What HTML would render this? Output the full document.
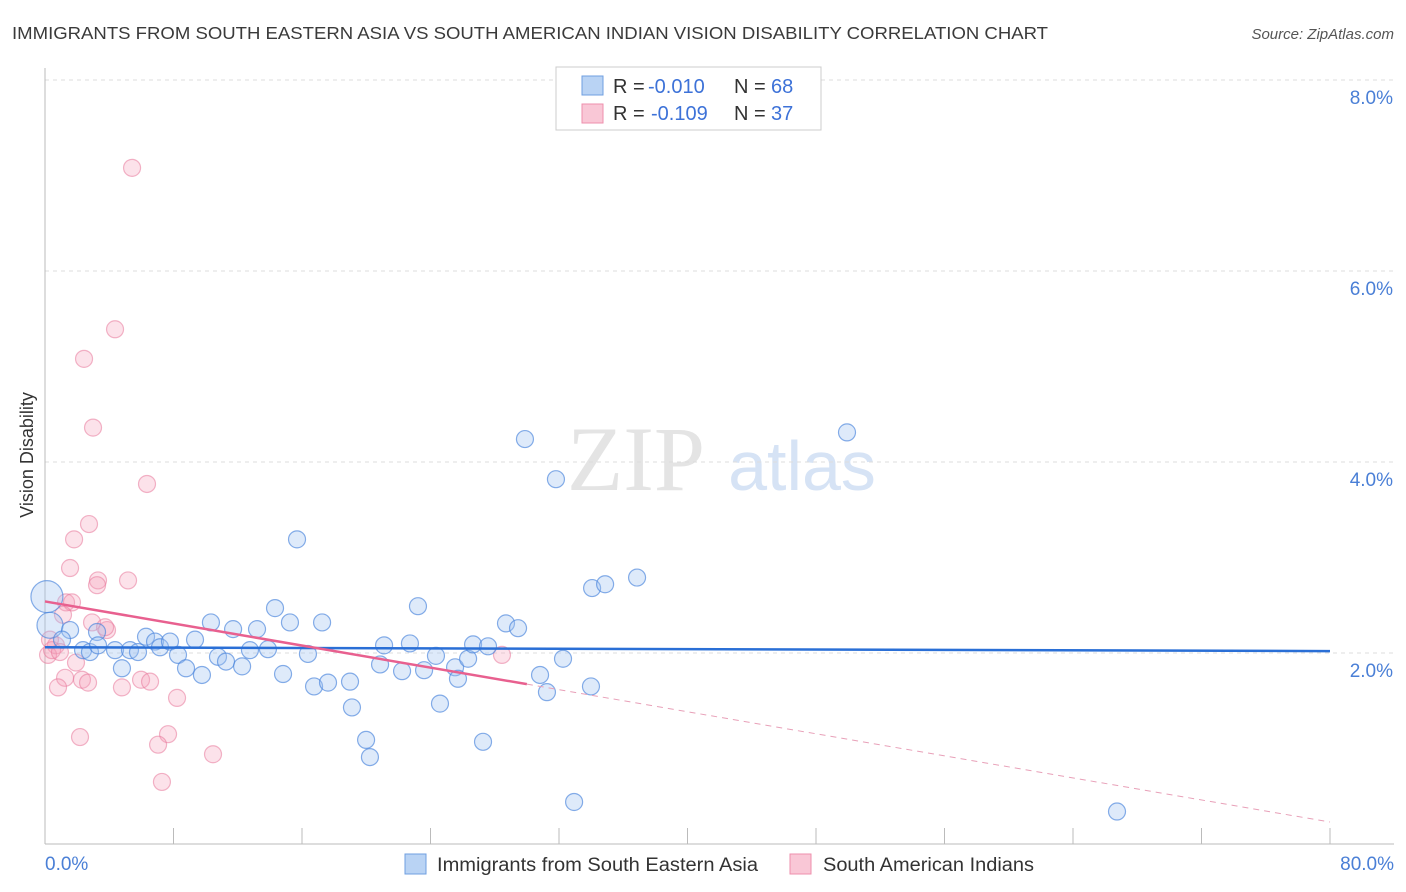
<!DOCTYPE html>
<html><head><meta charset="utf-8"><style>
body{margin:0;background:#fff;font-family:"Liberation Sans",sans-serif;}
</style></head><body>
<svg id="chart" width="1406" height="892" xmlns="http://www.w3.org/2000/svg" style="display:block">
<text x="12" y="39" font-size="17.5" fill="#3a3a3a" textLength="1036" lengthAdjust="spacingAndGlyphs">IMMIGRANTS FROM SOUTH EASTERN ASIA VS SOUTH AMERICAN INDIAN VISION DISABILITY CORRELATION CHART</text>
<text x="1394" y="39" font-size="15" fill="#555" font-style="italic" text-anchor="end">Source: ZipAtlas.com</text>
<text transform="translate(33,455) rotate(-90)" font-size="18" fill="#333" text-anchor="middle">Vision Disability</text>
<g>
<text x="636" y="490" font-size="92" fill="#e4e4e4" font-family="Liberation Serif,serif" text-anchor="middle">ZIP</text>
<text x="802" y="490" font-size="70" fill="#d6e3f5" text-anchor="middle">atlas</text>
</g>
<g id="grid"></g><g id="axes"></g><g id="pinkpts"></g><g id="bluepts"></g><g id="lines"></g>
<g>
<rect x="556" y="67" width="265" height="63" fill="#fff" stroke="#ccc"/>
<rect x="582" y="76" width="21" height="19" fill="#b9d3f4" stroke="#6f9fe0"/>
<text x="613" y="93" font-size="20" fill="#333">R =</text>
<text x="648" y="93" font-size="20" fill="#3d72d8">-0.010</text>
<text x="734" y="93" font-size="20" fill="#333">N =</text>
<text x="771" y="93" font-size="20" fill="#3d72d8">68</text>
<rect x="582" y="104" width="21" height="19" fill="#f9c7d6" stroke="#ee8fac"/>
<text x="613" y="120" font-size="20" fill="#333">R =</text>
<text x="651" y="120" font-size="20" fill="#3d72d8">-0.109</text>
<text x="734" y="120" font-size="20" fill="#333">N =</text>
<text x="771" y="120" font-size="20" fill="#3d72d8">37</text>
</g>
<g>
<rect x="405" y="854" width="21" height="20" fill="#b9d3f4" stroke="#6f9fe0"/>
<text x="437" y="871" font-size="19" fill="#333" textLength="321" lengthAdjust="spacingAndGlyphs">Immigrants from South Eastern Asia</text>
<rect x="790" y="854" width="21" height="20" fill="#f9c7d6" stroke="#ee8fac"/>
<text x="823" y="871" font-size="19" fill="#333" textLength="211" lengthAdjust="spacingAndGlyphs">South American Indians</text>
</g>
</svg>
<script>
const blueX=[0.12,0.31,1.56,1.06,3.24,2.37,2.80,3.30,4.36,4.79,5.29,5.79,6.29,6.85,7.16,7.78,8.28,8.78,9.34,9.77,10.33,10.77,11.27,11.71,12.27,12.76,13.20,13.88,14.32,14.82,15.25,15.69,16.37,16.75,17.25,17.62,18.99,19.11,19.99,20.23,20.86,21.11,22.23,22.72,23.22,23.60,24.34,24.59,25.53,25.71,26.34,26.65,27.27,27.58,28.70,29.45,29.88,30.82,31.25,31.81,32.25,32.94,34.06,33.99,34.87,36.86,49.93,66.74];
const blueY=[2.59,2.29,2.24,2.14,2.22,2.03,2.01,2.08,2.03,1.84,2.03,2.01,2.17,2.12,2.06,2.12,1.98,1.84,2.14,1.77,2.32,1.96,1.91,2.25,1.86,2.03,2.25,2.04,2.47,1.78,2.32,3.19,1.99,1.65,2.32,1.69,1.70,1.43,1.09,0.91,1.88,2.08,1.81,2.10,2.49,1.82,1.97,1.47,1.85,1.73,1.94,2.09,1.07,2.07,2.31,2.26,4.24,1.77,1.59,3.82,1.94,0.44,2.68,1.65,2.72,2.79,4.31,0.34];
const blueR=[16,13];
const pinkX=[5.42,4.36,2.43,2.99,6.35,2.74,1.81,1.56,3.30,3.24,5.17,1.31,1.68,1.12,2.93,3.86,3.74,0.68,0.19,0.44,0.93,1.93,1.25,0.81,2.30,2.68,4.79,5.98,6.54,8.22,2.18,7.66,7.04,10.46,7.28,28.45,0.31];
const pinkY=[7.08,5.39,5.08,4.36,3.77,3.35,3.19,2.89,2.76,2.71,2.76,2.53,2.53,2.40,2.32,2.24,2.27,2.08,1.98,2.03,2.01,1.90,1.74,1.64,1.72,1.69,1.64,1.72,1.70,1.53,1.12,1.15,1.04,0.94,0.65,1.98,2.14];
const yTicks=[2,4,6,8];
const xTicks=[0,8,16,24,32,40,48,56,64,72,80];
const blueTrend=[2.06,2.02];
const pinkTrend=[2.54,0.23];
const pinkSolidEnd=30;
const NS="http://www.w3.org/2000/svg";
const sx=v=>45+v/80*1285, sy=v=>844-v*95.5;
function mk(parent,tag,attrs){const e=document.createElementNS(NS,tag);for(const k in attrs)e.setAttribute(k,attrs[k]);document.getElementById(parent).appendChild(e);return e;}
yTicks.forEach(t=>{
 const l=mk('grid','line',{x1:45,x2:1394,y1:sy(t),y2:sy(t),stroke:'#ddd','stroke-dasharray':'4,4'});
 
 
 const tx=mk('grid','text',{x:1393,y:sy(t)+24,'font-size':19,fill:'#4a7fd6','text-anchor':'end'});
 tx.textContent=t.toFixed(1)+'%';
 
 
});
const ya=mk('axes','line',{x1:45,x2:45,y1:68,y2:844,stroke:'#bbb'});


const xa=mk('axes','line',{x1:45,x2:1394,y1:844,y2:844,stroke:'#bbb'});


xTicks.forEach(t=>{
 const l=mk('axes','line',{x1:sx(t),x2:sx(t),y1:828,y2:844,stroke:'#bbb'});
 
 
});
[[0,'start',45],[80,'end',1394]].forEach(([v,a,x])=>{
 const tx=mk('axes','text',{x:x,y:870,'font-size':19,fill:'#4a7fd6','text-anchor':a});
 tx.textContent=v.toFixed(1)+'%';
 
 
});
pinkX.forEach((x,i)=>{
 const c=mk('pinkpts','circle',{cx:sx(x),cy:sy(pinkY[i]),r:8.5,fill:'rgba(244,160,185,0.3)',stroke:'rgba(232,120,155,0.55)','stroke-width':1.2});
 
 
});
blueX.forEach((x,i)=>{
 const c=mk('bluepts','circle',{cx:sx(x),cy:sy(blueY[i]),r:blueR[i]||8.5,fill:'rgba(160,195,240,0.35)',stroke:'rgba(70,130,220,0.65)','stroke-width':1.2});
 
 
});
const bl=mk('lines','line',{x1:sx(0),x2:sx(80),y1:sy(blueTrend[0]),y2:sy(blueTrend[1]),stroke:'#2a6fd6','stroke-width':2.5});


const pAt=x=>pinkTrend[0]+(pinkTrend[1]-pinkTrend[0])*x/80;
const pl=mk('lines','line',{x1:sx(0),x2:sx(pinkSolidEnd),y1:sy(pAt(0)),y2:sy(pAt(pinkSolidEnd)),stroke:'#e8608f','stroke-width':2.5});


const pd=mk('lines','line',{x1:sx(pinkSolidEnd),x2:sx(80),y1:sy(pAt(pinkSolidEnd)),y2:sy(pAt(80)),stroke:'#e8a0b8','stroke-width':1,'stroke-dasharray':'6,5'});


</script>
</body></html>
